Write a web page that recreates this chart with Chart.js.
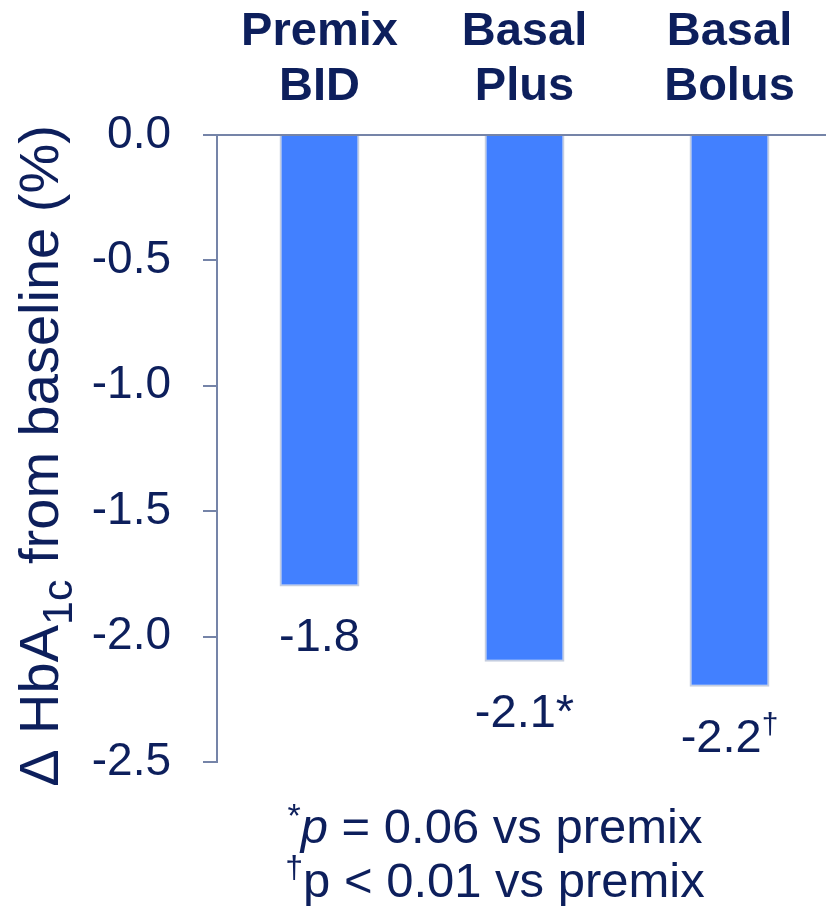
<!DOCTYPE html>
<html>
<head>
<meta charset="utf-8">
<script src="https://cdn.jsdelivr.net/npm/chart.js@4"></script>
<style>
  html, body { margin: 0; padding: 0; background: #fff; overflow: hidden; }
  #wrap { width: 832px; height: 906px; }
</style>
</head>
<body>
<div id="wrap"><canvas id="chart"></canvas></div>
<script>
const categories = [['Premix', 'BID'], ['Basal', 'Plus'], ['Basal', 'Bolus']];
const values = [-1.8, -2.1, -2.2];
const valueLabels = ['-1.8', '-2.1', '-2.2'];
const valueMarks = ['', '*', '†'];
const yTicks = [0, -0.5, -1.0, -1.5, -2.0, -2.5];

const navy = '#0d1f5c';
const axisColor = '#7584a8';
const font = '"Liberation Sans", Arial, sans-serif';

// draws a run of text pieces, each with its own size / style / vertical shift
function drawRuns(ctx, runs, cx, y) {
    let total = 0;
    runs.forEach(r => {
        ctx.font = (r.style || '') + ' ' + r.size + 'px ' + font;
        r.w = ctx.measureText(r.t).width;
        total += r.w;
    });
    let x = cx - total / 2;
    runs.forEach(r => {
        ctx.font = (r.style || '') + ' ' + r.size + 'px ' + font;
        ctx.fillText(r.t, x, y + (r.dy || 0));
        x += r.w;
    });
}

const extras = {
    id: 'extras',
    afterDatasetsDraw(chart) {
        const ctx = chart.ctx;
        ctx.save();
        ctx.fillStyle = navy;
        ctx.textAlign = 'left';
        ctx.textBaseline = 'alphabetic';

        // value labels under each bar
        chart.getDatasetMeta(0).data.forEach((bar, i) => {
            const runs = [{t: valueLabels[i], size: 47}];
            if (valueMarks[i] === '*') runs.push({t: '*', size: 47});
            if (valueMarks[i] === '†') runs.push({t: '†', size: 30, dy: -18});
            drawRuns(ctx, runs, bar.x, bar.y + 65);
        });

        // y axis title with subscript
        ctx.save();
        ctx.translate(58, 456);
        ctx.rotate(-Math.PI / 2);
        drawRuns(ctx, [
            {t: 'Δ HbA', size: 56},
            {t: '1c', size: 43, dy: 14},
            {t: ' from baseline (%)', size: 56}
        ], 0, 0);
        ctx.restore();

        // footnotes
        drawRuns(ctx, [
            {t: '*', size: 34, dy: -16},
            {t: 'p', size: 49, style: 'italic'},
            {t: ' = 0.06 vs premix', size: 49}
        ], 495, 843);
        drawRuns(ctx, [
            {t: '†', size: 32, dy: -19},
            {t: 'p < 0.01 vs premix', size: 49}
        ], 495, 897);

        ctx.restore();
    }
};

new Chart('chart', {
    type: 'bar',
    data: {
        labels: categories,
        datasets: [{
            data: values,
            backgroundColor: '#4280ff',
            borderColor: '#c4cde0',
            borderWidth: 2,
            categoryPercentage: 1,
            barPercentage: 0.39
        }]
    },
    options: {
        responsive: true,
        maintainAspectRatio: false,
        animation: false,
        layout: {
            padding: {left: 0, top: 0, right: 0, bottom: 144}
        },
        plugins: {
            legend: {display: false},
            tooltip: {enabled: false}
        },
        scales: {
            x: {
                position: 'top',
                afterFit: scale => { scale.height = 135; },
                grid: {drawOnChartArea: false, drawTicks: false},
                border: {display: true, color: axisColor, width: 2},
                ticks: {
                    color: navy,
                    font: {family: font, size: 47, weight: 'bold', lineHeight: 1.17},
                    padding: 20
                }
            },
            y: {
                min: -2.5,
                max: 0,
                afterFit: scale => { scale.width = 217; },
                afterBuildTicks: scale => {
                    scale.ticks = yTicks.map(v => ({value: v}));
                },
                grid: {drawOnChartArea: false, color: axisColor, lineWidth: 2, tickLength: 14},
                border: {display: true, color: axisColor, width: 2},
                ticks: {
                    color: navy,
                    font: {family: font, size: 46},
                    padding: 32,
                    callback: v => v.toFixed(1)
                }
            }
        }
    },
    plugins: [extras]
});
</script>
</body>
</html>
